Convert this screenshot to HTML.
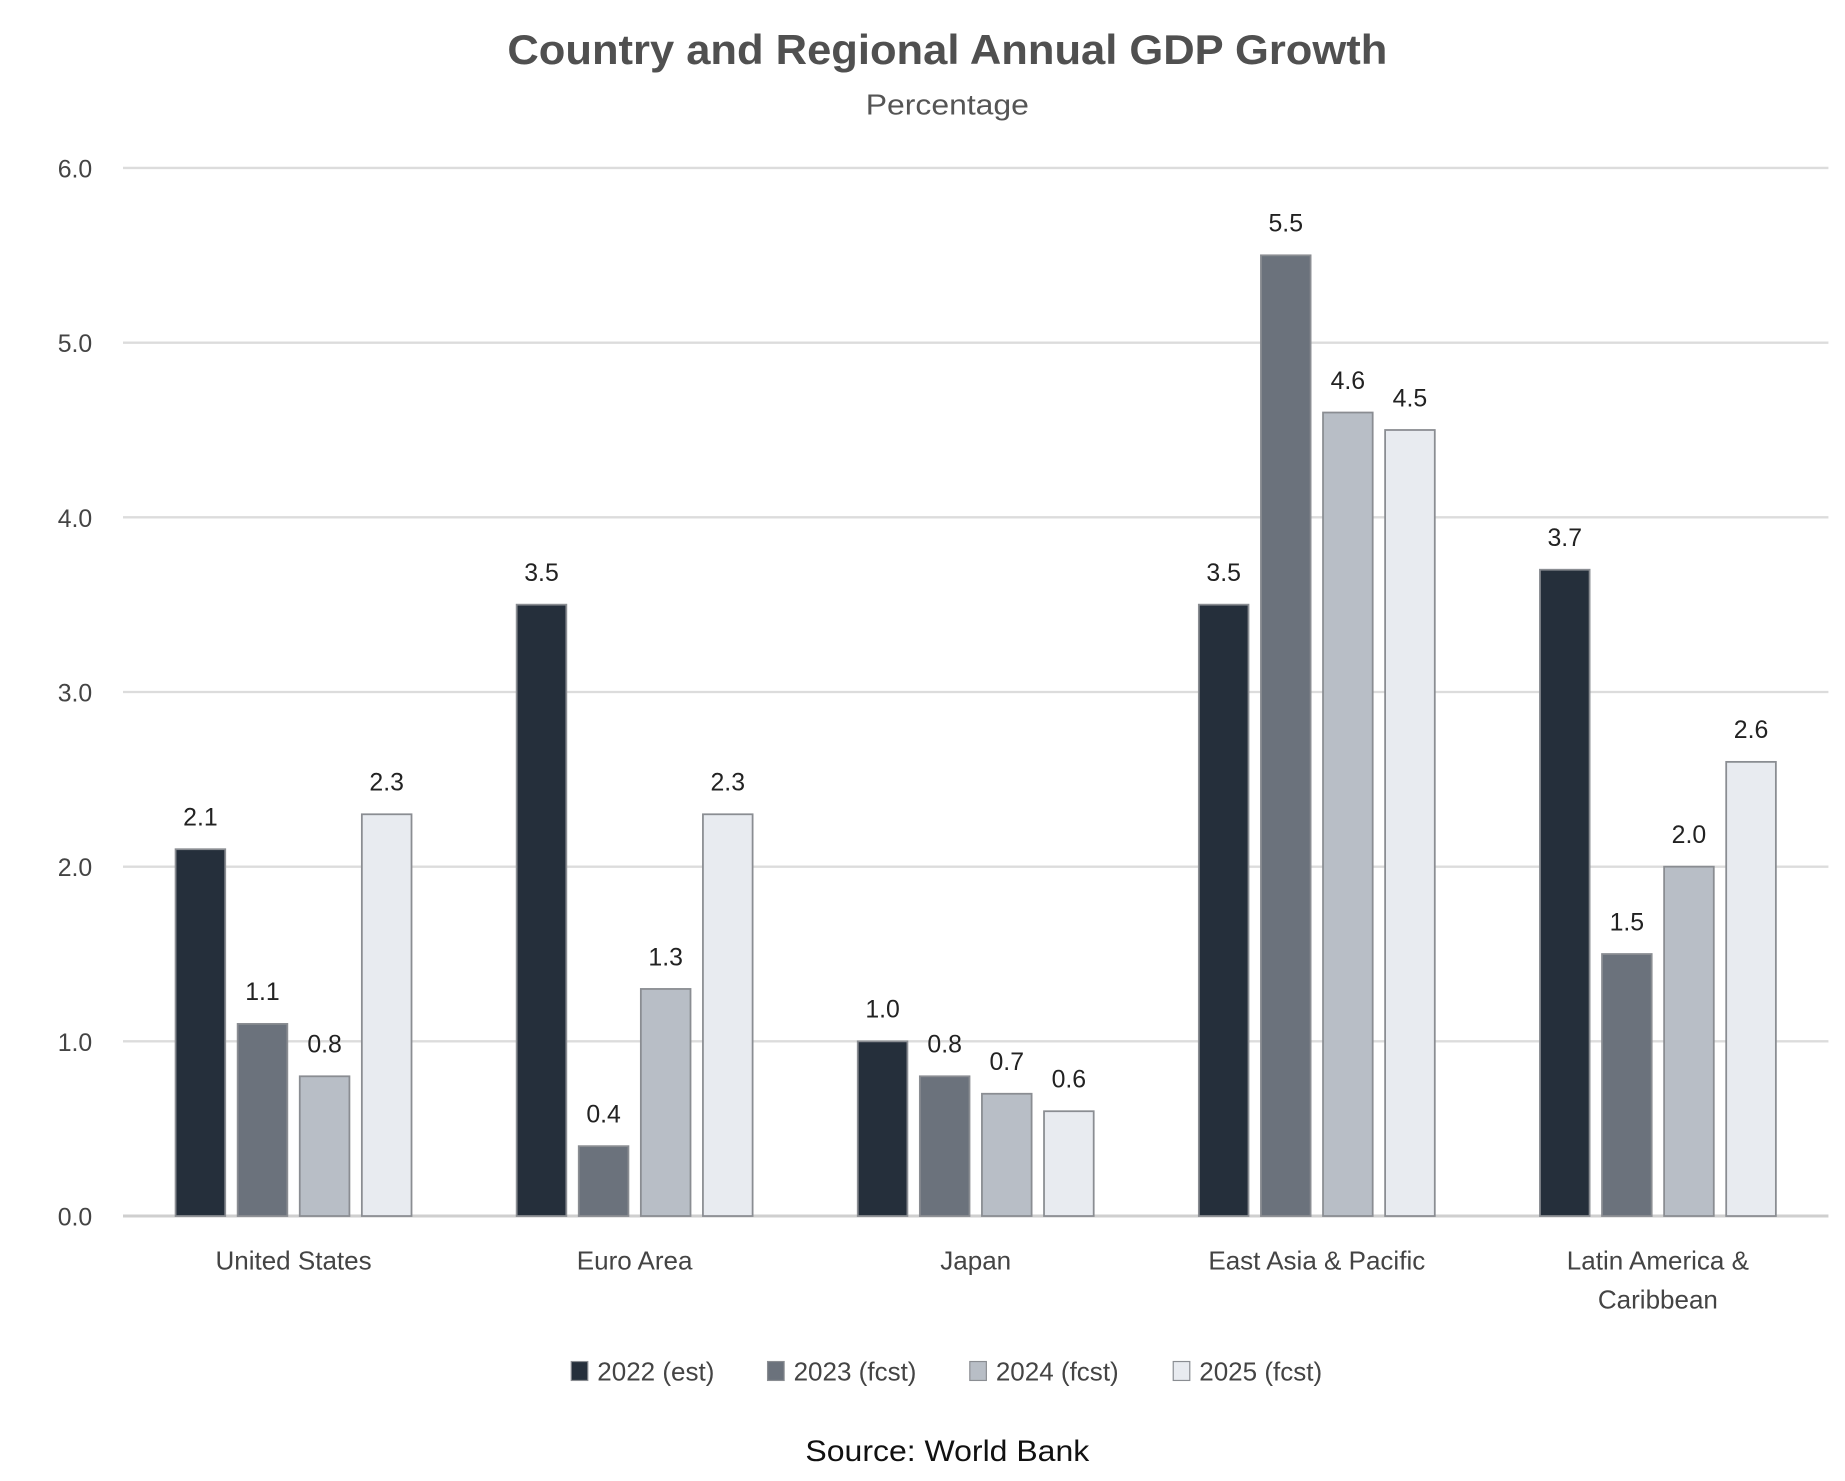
<!DOCTYPE html>
<html><head><meta charset="utf-8"><style>
html,body{margin:0;padding:0;background:#fff;}
svg{display:block;font-family:"Liberation Sans",sans-serif;}
</style></head><body>
<svg id="chart" width="1845" height="1481" viewBox="0 0 1560 1252" preserveAspectRatio="none" xmlns="http://www.w3.org/2000/svg">
<text x="801" y="54" text-anchor="middle" font-size="35" font-weight="bold" fill="#505050" textLength="744" lengthAdjust="spacingAndGlyphs">Country and Regional Annual GDP Growth</text>
<text x="801" y="97" text-anchor="middle" font-size="24" fill="#555" textLength="138" lengthAdjust="spacingAndGlyphs">Percentage</text>
<g id="grid"></g><g id="bars"></g><g id="labels"></g><g id="legend"></g>
<text x="801" y="1235" text-anchor="middle" font-size="25" fill="#111" textLength="240" lengthAdjust="spacingAndGlyphs">Source: World Bank</text>
</svg>
<script>
const categories = [["United States"],["Euro Area"],["Japan"],["East Asia & Pacific"],["Latin America &","Caribbean"]];
const seriesNames = ["2022 (est)","2023 (fcst)","2024 (fcst)","2025 (fcst)"];
const s2022 = [2.1,3.5,1.0,3.5,3.7];
const s2023 = [1.1,0.4,0.8,5.5,1.5];
const s2024 = [0.8,1.3,0.7,4.6,2.0];
const s2025 = [2.3,2.3,0.6,4.5,2.6];
const yTicks = [0,1,2,3,4,5,6];
const series = [s2022,s2023,s2024,s2025];
const colors = ["#252f3b","#6b727c","#b8bec6","#e8ebf0"];
const NS="http://www.w3.org/2000/svg";
const X0=104,X1=1546,Y0=1028,Y6=142;
const y=v=>Y0-(v/6)*(Y0-Y6);
const band=(X1-X0)/categories.length;
const cx=i=>X0+band*(i+0.5);
const BW=42,STEP=52.5;
function mk(tag,attrs,parent,txt){const e=document.createElementNS(NS,tag);for(const k in attrs)e.setAttribute(k,attrs[k]);if(txt!==undefined)e.textContent=txt;document.getElementById(parent).appendChild(e);return e;}
yTicks.forEach(t=>{
  const l=mk('line',{x1:X0,x2:X1,y1:y(t),y2:y(t),stroke:t===0?'#cfcfcf':'#dcdcdc','stroke-width':t===0?2.5:2},'grid');
  
  
  const tx=mk('text',{x:78,y:y(t)+8,'text-anchor':'end','font-size':21,fill:'#444'},'grid',t.toFixed(1));
  
  
});
categories.forEach((c,i)=>{
  series.forEach((s,j)=>{
    const bx=cx(i)+(j-1.5)*STEP-BW/2;
    const r=mk('rect',{x:bx,y:y(s[i]),width:BW,height:y(0)-y(s[i]),fill:colors[j],stroke:'#8a8d92','stroke-width':1.5},'bars');
    
    
    const v=mk('text',{x:bx+BW/2,y:y(s[i])-20,'text-anchor':'middle','font-size':21,fill:'#222'},'labels',s[i].toFixed(1));
    
    
  });
  c.forEach((line,k)=>{
    const t=mk('text',{x:cx(i),y:1073+k*33,'text-anchor':'middle','font-size':22,fill:'#444'},'labels',line);
    
    
  });
});
const legX=[483,649,820,992];
seriesNames.forEach((n,j)=>{
  const r=mk('rect',{x:legX[j],y:1151,width:14,height:16,fill:colors[j],stroke:'#8a8d92','stroke-width':1},'legend');
  
  
  const t=mk('text',{x:legX[j]+22,y:1167,'font-size':22,fill:'#444'},'legend',n);
  
  
});
</script>
</body></html>
